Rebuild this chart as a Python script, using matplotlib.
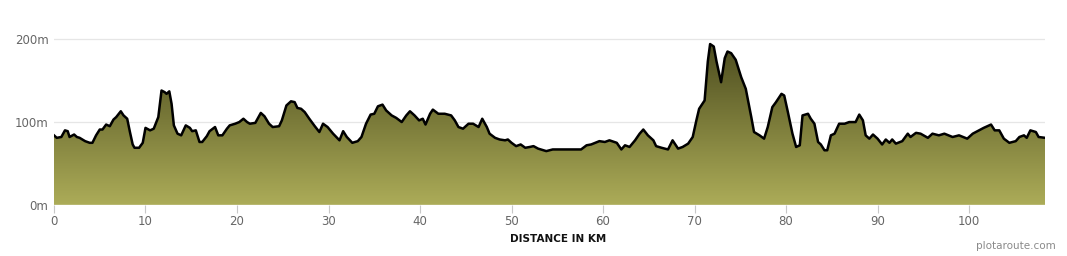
"""Elevation profile of a route (distance vs. height), plotaroute style."""

import matplotlib
matplotlib.use("Agg")
import matplotlib.pyplot as plt
import numpy as np
from matplotlib.colors import LinearSegmentedColormap

# distance along the route (km) and elevation (m)
distance_km = [
    0.0, 0.3, 0.8, 1.2, 1.5, 1.7, 2.2, 2.5, 2.8, 3.4, 3.9, 4.2, 4.6, 5.0, 5.3,
    5.7, 6.1, 6.5, 6.8, 7.3, 7.6, 8.0, 8.3, 8.6, 8.8, 9.3, 9.7, 10.0, 10.5,
    10.9, 11.4, 11.75, 12.1, 12.3, 12.6, 12.85, 13.1, 13.5, 13.9, 14.4, 14.85,
    15.1, 15.5, 15.9, 16.2, 16.7, 17.0, 17.6, 17.95, 18.4, 18.9, 19.2, 19.8,
    20.25, 20.7, 21.1, 21.4, 22.0, 22.6, 23.0, 23.5, 23.9, 24.6, 24.9, 25.4,
    25.9, 26.3, 26.6, 27.0, 27.4, 27.9, 28.5, 29.0, 29.4, 29.9, 30.5, 31.2,
    31.6, 32.0, 32.6, 33.2, 33.6, 34.1, 34.6, 35.0, 35.4, 35.9, 36.3, 36.9,
    37.4, 38.0, 38.5, 38.9, 39.4, 39.9, 40.3, 40.6, 41.1, 41.4, 42.0, 42.7,
    43.4, 43.8, 44.2, 44.7, 45.3, 45.8, 46.4, 46.8, 47.3, 47.6, 48.2, 48.7,
    49.3, 49.6, 50.0, 50.5, 51.0, 51.5, 52.0, 52.4, 52.9, 53.8, 54.5, 55.6,
    56.7, 57.6, 58.2, 58.7, 59.6, 60.2, 60.7, 61.5, 62.0, 62.4, 62.9, 63.5,
    64.0, 64.4, 64.9, 65.5, 65.8, 66.4, 67.1, 67.6, 68.2, 68.7, 69.3, 69.8,
    70.2, 70.5, 71.1, 71.45, 71.7, 72.1, 72.4, 72.9, 73.3, 73.6, 74.0, 74.5,
    75.1, 75.6, 76.2, 76.5, 77.1, 77.6, 78.0, 78.5, 78.9, 79.5, 79.8, 80.2,
    80.7, 81.1, 81.5, 81.8, 82.4, 82.7, 83.1, 83.5, 83.8, 84.2, 84.5, 84.9,
    85.3, 85.8, 86.4, 86.9, 87.6, 88.0, 88.4, 88.7, 89.1, 89.5, 90.0, 90.5,
    90.9, 91.3, 91.6, 92.0, 92.7, 93.3, 93.6, 94.2, 94.7, 95.5, 96.0, 96.7,
    97.3, 98.2, 98.9, 99.8, 100.4, 101.1, 101.6, 102.4, 102.8, 103.3, 103.8,
    104.4, 105.1, 105.5, 106.0, 106.3, 106.7, 107.3, 107.6, 108.3,
]
elevation_m = [
    84, 81, 82, 90, 89, 82, 85, 82, 81, 77, 75, 75, 84, 91, 91,
    97, 95, 103, 106, 113, 108, 104, 88, 73, 69, 69, 75, 93, 90,
    92, 106, 138, 136, 134, 137, 122, 96, 86, 84, 96, 93,
    89, 90, 76, 76, 83, 89, 94, 84, 84, 92, 96, 98,
    100, 104, 100, 98, 99, 111, 107, 98, 94, 95, 102, 120,
    125, 124, 117, 116, 112, 104, 95, 88, 98, 94, 86, 78,
    89, 82, 75, 77, 82, 98, 109, 110, 119, 121, 114, 108,
    105, 100, 108, 113, 108, 102, 104, 97, 110, 115, 110, 110,
    108, 102, 94, 92, 98, 98, 94, 104, 94, 86, 81, 79,
    78, 79, 75, 71, 73, 69, 70, 71, 68, 65, 67, 67,
    67, 67, 72, 73, 77, 76, 78, 75, 67, 72, 70, 78,
    86, 91, 84, 78, 71, 69, 67, 78, 68, 70, 74, 82,
    102, 116, 126, 173, 194, 191, 173, 148, 177, 185, 183, 175,
    154, 140, 106, 88, 84, 80, 94, 118, 124, 134, 132, 112,
    86, 70, 72, 108, 110, 104, 98, 76, 73, 66, 66, 84,
    86, 98, 98, 100, 100, 109, 102, 84, 80, 85, 80, 73,
    79, 75, 79, 74, 77, 86, 82, 87, 86, 81, 86, 84,
    86, 82, 84, 80, 86, 90, 93, 97, 90, 90, 80,
    75, 77, 82, 84, 81, 90, 88, 82, 81,
]

x_ticks = [0, 10, 20, 30, 40, 50, 60, 70, 80, 90, 100]
y_ticks = [0, 100, 200]
y_labels = ["0m", "100m", "200m"]

X_MAX = 108.3
Y_MAX = 223

fig = plt.figure(figsize=(10.67, 2.56), dpi=100)
ax = fig.add_axes([0.0506, 0.199, 0.9288, 0.723])

x = np.array(distance_km)
y = np.array(elevation_m)

# vertical gradient fill clipped to the area under the profile
cmap = LinearSegmentedColormap.from_list("olive", ["#acac58", "#7b7b3a", "#4a4a1e"])
grad = np.linspace(0, 1, 256).reshape(-1, 1)
fill = ax.fill_between(x, y, 0, color="none", lw=0)
img = ax.imshow(grad, cmap=cmap, aspect="auto", origin="lower",
                extent=[0, X_MAX, 0, 200], zorder=2)
img.set_clip_path(fill.get_paths()[0], transform=ax.transData)

ax.plot(x, y, color="black", lw=1.8, zorder=3, solid_joinstyle="round")

ax.set_xlim(0, X_MAX)
ax.set_ylim(0, Y_MAX)

for yv in [100, 200]:
    ax.axhline(yv, color="#e6e6e6", lw=0.9, zorder=1)
ax.axhline(0, color="#f2f2dc", lw=1.0, zorder=4)

for s in ax.spines.values():
    s.set_visible(False)

ax.set_xticks(x_ticks)
ax.set_xticklabels([str(t) for t in x_ticks])
ax.set_yticks(y_ticks)
ax.set_yticklabels(y_labels)
ax.tick_params(axis="x", length=6, width=0.8, color="#c8c8c8",
               labelcolor="#666666", labelsize=8.5, pad=1)
ax.tick_params(axis="y", length=0, labelcolor="#666666", labelsize=8.5, pad=4)

fig.text(0.523, 0.045, "DISTANCE IN KM", ha="center", va="bottom",
         fontsize=7.5, fontweight="bold", color="#111111")
fig.text(0.989, 0.02, "plotaroute.com", ha="right", va="bottom",
         fontsize=7.5, color="#8a8a8a")

fig.savefig("out.png", dpi=100, facecolor="white")
